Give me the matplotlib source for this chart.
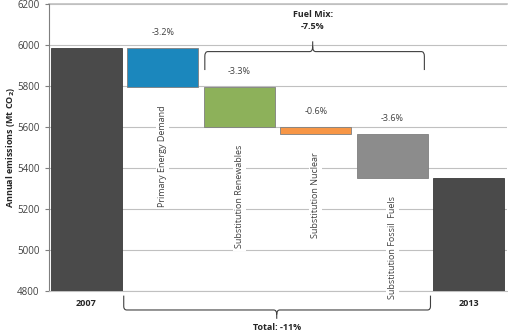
import matplotlib
matplotlib.use("Agg")
import matplotlib.pyplot as plt
from matplotlib.path import Path
from matplotlib.patches import PathPatch

plt.rcParams['font.family'] = ['Open Sans', 'DejaVu Sans']

start_label = "2007"
end_label = "2013"
start_value = 5985
step_labels = ["Primary Energy Demand", "Substitution Renewables",
               "Substitution Nuclear", "Substitution Fossil  Fuels"]
step_deltas = [-190, -195, -35, -215]
step_pcts = ["-3.2%", "-3.3%", "-0.6%", "-3.6%"]
step_colors = ["#1b87bd", "#8db15a", "#f79646", "#8c8c8c"]
total_color = "#4a4a4a"
fuel_mix_text = "Fuel Mix:\n-7.5%"
total_text = "Total: -11%"
yticks = [4800, 5000, 5200, 5400, 5600, 5800, 6000, 6200]

fig = plt.figure(figsize=(5.08, 3.35), dpi=100)
ax = fig.add_axes([0.096, 0.131, 0.902, 0.857])

W = 0.93
ax.bar(0, start_value - 4800, bottom=4800, width=W, color=total_color,
       edgecolor="#3a3a3a", linewidth=0.6, zorder=3)
level = start_value
for i, (d, c, lab, p) in enumerate(zip(step_deltas, step_colors, step_labels, step_pcts), start=1):
    top = level
    bot = level + d
    ax.bar(i, top - bot, bottom=bot, width=W, color=c,
           edgecolor="#7f7f7f", linewidth=0.6, zorder=3)
    ax.annotate(p, (i, top), xytext=(0, 8), textcoords="offset points",
                ha="center", va="bottom", fontsize=6.5, color="#404040")
    ax.annotate(lab, (i, bot), xytext=(0, -13), textcoords="offset points",
                ha="center", va="top", rotation=90, fontsize=6.5, color="#404040",
                bbox=dict(facecolor="white", edgecolor="none", pad=1.5), zorder=4)
    level = bot
end_value = level
ax.bar(5, end_value - 4800, bottom=4800, width=W, color=total_color,
       edgecolor="#3a3a3a", linewidth=0.6, zorder=3)

ax.set_xlim(-0.49, 5.5)
ax.set_ylim(4800, 6200)
ax.set_yticks(yticks)
ax.set_xticks([])
ax.tick_params(axis='y', labelsize=7, colors="#404040", length=3, color="#7f7f7f")
ax.grid(axis='y', color="#c0c0c0", linewidth=0.8, zorder=0)
for s in ["top", "right"]:
    ax.spines[s].set_visible(False)
ax.spines["left"].set_color("#7f7f7f")
ax.spines["bottom"].set_color("#c0c0c0")
ax.axhline(6200, color="#c0c0c0", linewidth=1.2, zorder=1, clip_on=False)

ax.set_ylabel("Annual emissions (Mt CO$_\\mathbf{2}$)", fontsize=6.5, fontweight="bold",
              color="#262626")
ax.yaxis.set_label_coords(-0.07, 0.5)

for x, t in [(0, start_label), (5, end_label)]:
    ax.annotate(t, (x, 4800), xytext=(0, -6), textcoords="offset points",
                ha="center", va="top", fontsize=6.5, fontweight="bold",
                color="#262626", annotation_clip=False)


def brace(ax, x0, x1, xm, ybase, ytip, yend, r=0.04):
    s = 1 if yend > ybase else -1
    dy = abs(yend - ybase) * 0.25
    t = 1 if ytip > ybase else -1
    dyt = abs(ytip - ybase) * 0.5
    v = [(x0, yend), (x0, ybase + s * dy), (x0, ybase), (x0 + r, ybase),
         (xm - r, ybase), (xm, ybase), (xm, ybase + t * dyt), (xm, ytip),
         (xm, ybase + t * dyt), (xm, ybase), (xm + r, ybase),
         (x1 - r, ybase), (x1, ybase), (x1, ybase + s * dy), (x1, yend)]
    codes = [Path.MOVETO, Path.LINETO, Path.CURVE3, Path.CURVE3,
             Path.LINETO, Path.CURVE3, Path.CURVE3, Path.LINETO,
             Path.MOVETO, Path.CURVE3, Path.CURVE3,
             Path.LINETO, Path.CURVE3, Path.CURVE3, Path.LINETO]
    p = PathPatch(Path(v, codes), facecolor="none", edgecolor="#404040",
                  linewidth=0.8, clip_on=False, zorder=5)
    ax.add_patch(p)

brace(ax, 1.55, 4.42, 2.96, 5968, 6018, 5878)
ax.text(2.96, 6120, fuel_mix_text, ha="center", va="center", fontsize=6.5,
        fontweight="bold", color="#262626", linespacing=1.5)
brace(ax, 0.49, 4.50, 2.49, 4708, 4665, 4778)
ax.text(2.49, 4622, total_text, ha="center", va="center", fontsize=6.5,
        fontweight="bold", color="#262626", clip_on=False)

fig.savefig("out.png", dpi=100)
